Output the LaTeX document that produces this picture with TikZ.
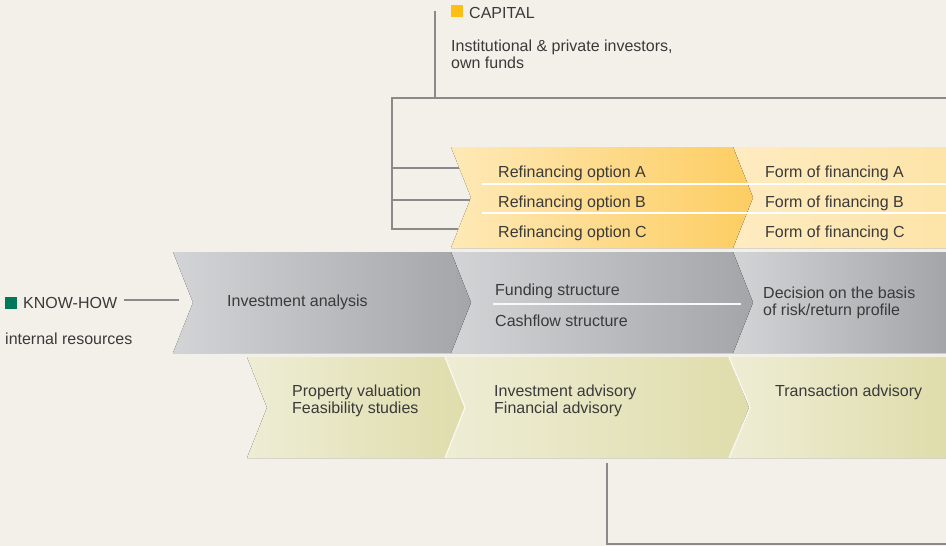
\documentclass[tikz,border=0pt]{standalone}
\usepackage{fontspec}
\setmainfont{Liberation Sans}
\definecolor{bgc}{HTML}{F3F0E9}
\definecolor{txt}{HTML}{3A3A3A}
\definecolor{ln}{HTML}{8A8A8A}
\definecolor{yelL}{HTML}{FEE9B6}
\definecolor{yelR}{HTML}{FDCD62}
\definecolor{yel2L}{HTML}{FEEBC0}
\definecolor{yel2R}{HTML}{FDE4A8}
\definecolor{gryL}{HTML}{D3D4D6}
\definecolor{gryR}{HTML}{A4A5A8}
\definecolor{grnL}{HTML}{EEEDD5}
\definecolor{grnR}{HTML}{DFDDAB}
\definecolor{capsq}{HTML}{FDBE16}
\definecolor{knowsq}{HTML}{00785A}
\tikzset{
  lbl/.style={inner sep=0pt, anchor=west, text=txt, font=\fontsize{16}{17}\selectfont, align=left},
  conn/.style={draw=ln, line width=1.5pt},
}
% chevron: #1 style, #2 left x, #3 right top x, #4 top y, #5 bottom y
\newcommand\chevron[5]{%
  \fill[#1] (#2,#4) -- (#3,#4) -- ({#3+20},{(#4+#5)/2}) -- (#3,#5) -- (#2,#5) -- ({#2+20},{(#4+#5)/2}) -- cycle;}
\newcommand\chevronend[4]{%
  \fill[#1] (#2,#3) -- (946,#3) -- (946,#4) -- (#2,#4) -- ({#2+20},{(#3+#4)/2}) -- cycle;}
\begin{document}
\begin{tikzpicture}[x=1pt,y=-1pt]
\fill[bgc] (0,0) rectangle (946,546);
\useasboundingbox (0,0) rectangle (946,546);

% ---- yellow band
\chevronend{left color=yel2L,right color=yel2R}{733}{147}{248}
\chevron{left color=yelL,right color=yelR}{451}{733}{147}{248}
\draw[white, line width=1.2pt] (482,184) -- (946,184);
\draw[white, line width=1.2pt] (482,213) -- (946,213);

% ---- gray band
\chevronend{left color=gryL,right color=gryR}{733}{252}{353}
\chevron{left color=gryL,right color=gryR}{451}{733}{252}{353}
\chevron{left color=gryL,right color=gryR}{173}{451}{252}{353}
\draw[white!85!gryL, line width=1.2pt] (493,304) -- (741,304);

% ---- green band
\chevronend{left color=grnL,right color=grnR}{729}{357}{458}
\chevron{left color=grnL,right color=grnR}{445}{729}{357}{458}
\chevron{left color=grnL,right color=grnR}{247}{445}{357}{458}
\draw[white!70!grnL, line width=1.2pt] (445,357) -- (465,407.5) -- (445,458);
\draw[white!70!grnL, line width=1.2pt] (729,357) -- (750,407.5) -- (729,458);

% ---- capital
\fill[capsq] (451,5) rectangle (463,17);
\node[lbl] (capital) at (469,12.5) {CAPITAL};
\node[lbl] (capinfo) at (451,54.5) {Institutional \& private investors,\\own funds};
\coordinate (capTop) at (435,11);
\coordinate (capJoin) at (435,98);
\coordinate (brTL) at (392,98);
\coordinate (brR) at (946,98);
\coordinate (brA) at (392,168);
\coordinate (brB) at (392,200);
\coordinate (brC) at (392,229);
\coordinate (rowA) at (459,168);
\coordinate (rowB) at (470,200);
\coordinate (rowC) at (458,229);
\draw[conn] (capTop) -- (capJoin);
\draw[conn] (brR) -- (brTL) -- (brC) -- (rowC);
\draw[conn] (brA) -- (rowA);
\draw[conn] (brB) -- (rowB);

\node[lbl] (refA) at (498,173) {Refinancing option A};
\node[lbl] (refB) at (498,203) {Refinancing option B};
\node[lbl] (refC) at (498,233) {Refinancing option C};
\node[lbl] (finA) at (765,173) {Form of financing A};
\node[lbl] (finB) at (765,203) {Form of financing B};
\node[lbl] (finC) at (765,233) {Form of financing C};

% ---- know-how
\fill[knowsq] (5,297) rectangle (17,309);
\node[lbl] (know) at (23,302.5) {KNOW-HOW};
\node[lbl] (internal) at (5,338.5) {internal resources};
\coordinate (knowStart) at (124,300);
\coordinate (knowEnd) at (179,300);
\draw[conn] (knowStart) -- (knowEnd);

\node[lbl] (invan) at (227,302.5) {Investment analysis};
\node[lbl] (fund) at (495,291) {Funding structure};
\node[lbl] (cash) at (495,321) {Cashflow structure};
\node[lbl] (decis) at (763,302.5) {Decision on the basis\\of risk/return profile};

\node[lbl] (prop) at (292,401) {Property valuation\\Feasibility studies};
\node[lbl] (invadv) at (494,401) {Investment advisory\\Financial advisory};
\node[lbl] (trans) at (775,392.5) {Transaction advisory};

% ---- bottom connector
\coordinate (botTop) at (607,463);
\coordinate (botCorner) at (607,544);
\coordinate (botEnd) at (946,544);
\draw[conn] (botTop) -- (botCorner) -- (botEnd);
\end{tikzpicture}
\end{document}
